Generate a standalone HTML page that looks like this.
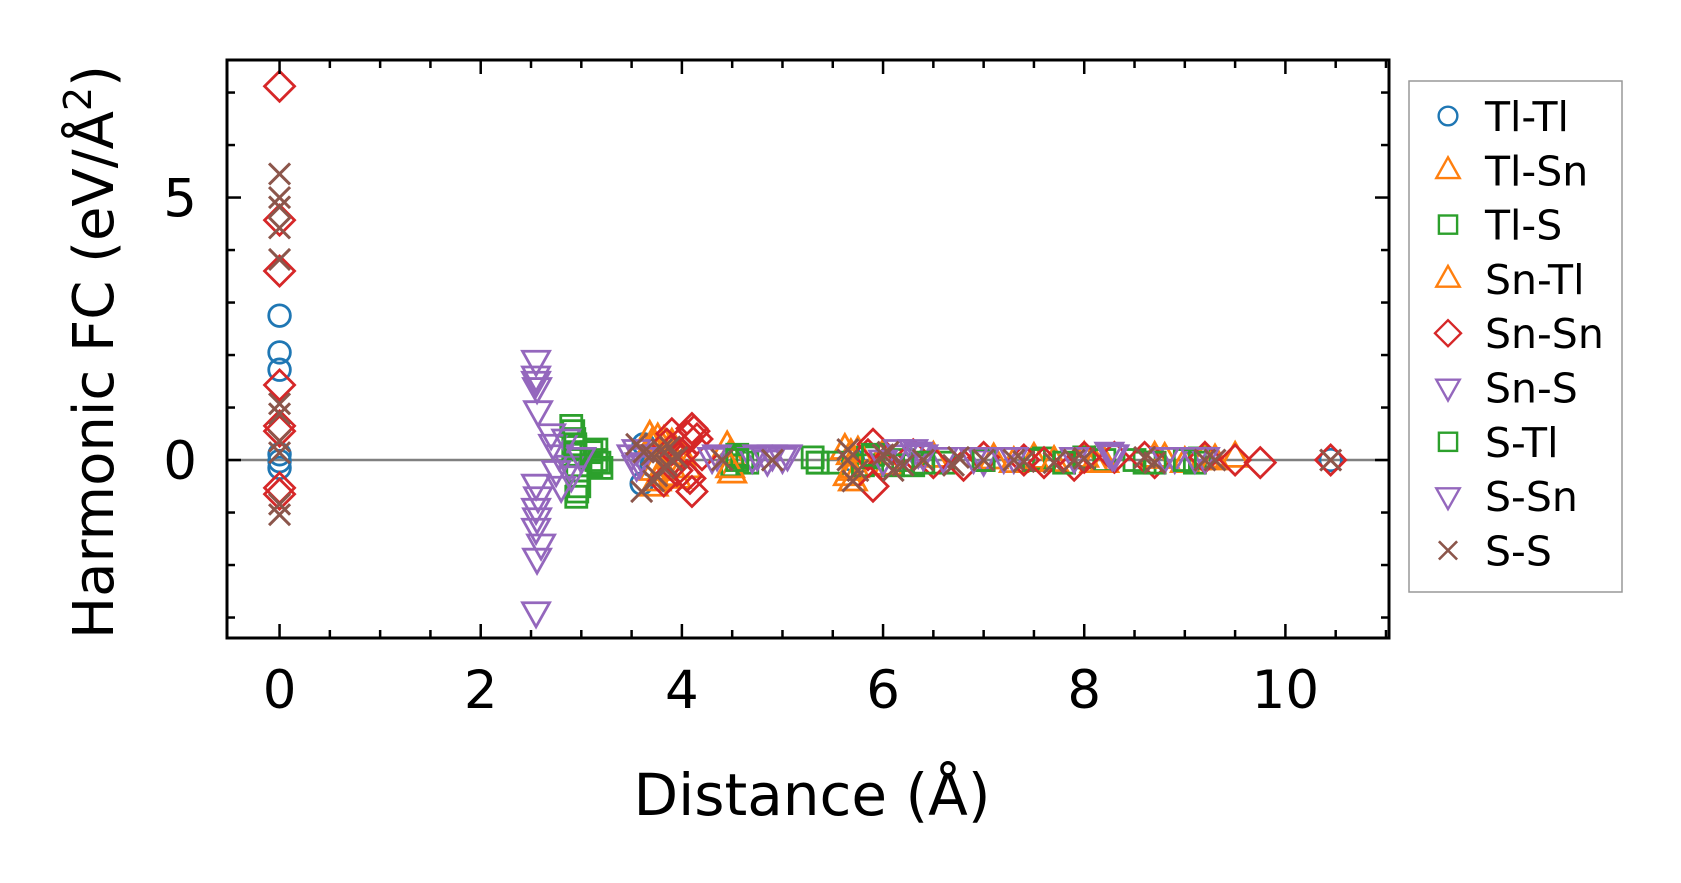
<!DOCTYPE html>
<html><head><meta charset="utf-8">
<style>
html,body{margin:0;padding:0;background:#fff;}
svg{display:block;font-family:"DejaVu Sans","Liberation Sans",sans-serif;}
</style></head>
<body>
<svg id="chart" width="1681" height="883" viewBox="0 0 1681 883" xmlns="http://www.w3.org/2000/svg">
<g id="marks"></g>
<g id="axes"></g>
<g id="legend"></g>
</svg>
<script>
// ---- data ----
const xTickLabels = [0, 2, 4, 6, 8, 10];
const yTickLabels = [0, 5];
const seriesNames = ["Tl-Tl","Tl-Sn","Tl-S","Sn-Tl","Sn-Sn","Sn-S","S-Tl","S-Sn","S-S"];
const seriesColors = ["#1f77b4","#ff7f0e","#2ca02c","#ff7f0e","#d62728","#9467bd","#2ca02c","#9467bd","#8c564b"];
const seriesMarkers = ["o","^","s","^","D","v","s","v","x"];

const tlTlX = [0,0,0,0,0,0,3.6,3.62,3.7,5.7,10.45];
const tlTlY = [2.75,2.05,1.72,0.11,-0.02,-0.15,-0.45,0.3,-0.1,0,0];
const tlSnX = [3.68,3.7,3.72,3.75,3.78,3.8,3.82,3.85,3.9,4.0,4.05,4.45,4.48,4.5,5.62,5.65,5.68,5.7,5.72,6.0,6.05,7.3,7.5,8.0,8.1,8.7,9.0,9.2,9.5];
const tlSnY = [0.45,0.3,-0.5,-0.4,0.2,-0.2,0.35,-0.3,0.1,0.1,-0.15,0.25,0.1,-0.25,0.2,-0.3,0.1,-0.4,-0.15,0.1,-0.1,-0.05,0.03,0.05,-0.05,0.05,-0.05,0.04,0.05];
const tlSX = [2.9,2.92,2.93,2.94,2.95,2.96,2.98,2.92,2.96,3.1,3.15,3.2,3.15,3.18,4.5,4.55,4.6,4.65,5.3,5.35,5.5,5.8,5.85,6.2,6.3,6.6,7.0,7.5,7.6,8.0,8.2,8.5,8.6,9.1,9.15];
const tlSY = [0.65,0.55,0.4,0.25,-0.7,-0.6,-0.5,0.1,-0.2,0.15,0.2,-0.15,0,-0.05,-0.1,0.1,0.05,-0.05,0.05,-0.05,-0.05,-0.1,0.05,0,-0.1,-0.05,0,0,0.03,0.05,0,0,-0.05,-0.05,0.03];
const snTlX = [3.72,3.76,3.9,3.95,4.48,5.68,5.75,6.5,7.1,7.7,8.2,8.8,9.3];
const snTlY = [-0.2,0.4,0.3,-0.35,-0.15,-0.2,0.15,0.05,0.02,-0.03,-0.05,0.03,0];
const snSnX = [0,0,0,0,0,0,0,0,3.82,3.85,3.9,3.95,4.0,4.05,4.08,4.1,4.12,4.15,4.1,4.05,3.9,4.2,5.85,5.9,5.9,6.0,6.3,6.5,6.8,7.0,7.4,7.6,7.9,8.0,8.3,8.6,8.7,9.2,9.5,9.75,10.45];
const snSnY = [7.12,4.57,3.6,1.43,0.65,0.55,-0.53,-0.65,-0.4,0.3,0.5,-0.2,0.1,0.45,-0.35,0.6,0.55,0.4,-0.6,-0.3,0.2,0.1,0.1,0.3,-0.5,-0.1,0.1,-0.05,-0.1,0.05,0,-0.05,-0.1,0.05,0.05,0.05,-0.05,0.05,0,-0.05,0];
const snSX = [2.55,2.55,2.56,2.57,2.55,2.55,2.56,2.55,2.56,2.55,2.7,2.72,2.75,2.8,2.78,2.85,2.88,3.5,3.55,3.6,4.3,4.35,4.7,4.75,4.9,5.0,6.2,6.3,6.35,6.6,7.0,7.3,8.3,8.9,9.2];
const snSY = [1.9,1.5,1.38,0.94,-0.46,-0.92,-1.1,-1.3,-1.87,-2.89,0.5,0.3,-0.2,-0.5,0.1,0.4,-0.1,0.1,-0.1,0.05,0.05,0.1,0.05,0.1,0.1,0.05,0.1,0.2,0.15,0.05,0.0,0.05,0.1,0.05,0.05];
const sTlX = [2.94,3.1,4.55,5.35,5.9,6.1,6.4,7.0,7.8,8.7,9.0];
const sTlY = [0.3,-0.1,0,-0.05,0.1,-0.1,-0.05,0,-0.05,-0.05,0];
const sSnX = [2.55,2.57,2.6,2.9,3.0,3.55,3.58,4.85,5.05,6.0,6.15,6.4,6.9,7.2,7.9,8.25,8.28,8.8,9.1];
const sSnY = [1.6,-0.7,-1.6,-0.3,0.05,0.2,-0.05,0,0.1,0.0,0.2,0.1,0.05,0.05,0.05,0.15,0.1,0.05,0.05];
const sSX = [0,0,0,0,0,0,0,0,0,0,0,3.55,3.6,3.62,3.7,3.72,3.75,3.8,3.82,3.9,3.85,3.88,3.95,4.4,4.9,5.65,5.7,5.65,5.75,6.0,6.05,6.1,6.2,6.4,6.7,6.75,7.0,7.3,7.4,7.7,7.9,8.0,8.6,8.7,9.2,9.3,10.45];
const sSY = [5.45,5.0,4.82,4.42,3.82,1.07,0.88,0.36,0.14,-0.84,-1.04,0.3,-0.6,0.15,0.1,-0.4,-0.3,0.2,-0.15,0,-0.1,0.25,0.05,0,0,0.2,-0.4,0,-0.2,0.1,0.15,-0.2,-0.1,0,-0.1,0.05,0,0,-0.03,-0.05,0,0.03,0.05,-0.05,0,0,0];
const seriesX = [tlTlX,tlSnX,tlSX,snTlX,snSnX,snSX,sTlX,sSnX,sSX];
const seriesY = [tlTlY,tlSnY,tlSY,snTlY,snSnY,snSY,sTlY,sSnY,sSY];

// ---- layout ----
const L=227,R=1389,T=60,B=638;
const XMIN=-0.5225,XMAX=11.03,YMIN=-3.39,YMAX=7.62;
const sx=v=>L+(v-XMIN)/(XMAX-XMIN)*(R-L);
const sy=v=>B-(v-YMIN)/(YMAX-YMIN)*(B-T);
const NS="http://www.w3.org/2000/svg";
function mk(tag,attrs,parent){const e=document.createElementNS(NS,tag);for(const k in attrs)e.setAttribute(k,attrs[k]);parent.appendChild(e);return e;}
const marks=document.getElementById('marks'),axes=document.getElementById('axes'),legend=document.getElementById('legend');

function marker(g,type,cx,cy,color,s,w){
  let e;
  if(type==='o') e=mk('circle',{cx:cx,cy:cy,r:s*0.72,fill:'none',stroke:color,'stroke-width':w},g);
  else if(type==='^') e=mk('polygon',{points:`${cx},${cy-s} ${cx-s*0.9},${cy+s*0.6} ${cx+s*0.9},${cy+s*0.6}`,fill:'none',stroke:color,'stroke-width':w},g);
  else if(type==='v') e=mk('polygon',{points:`${cx},${cy+s} ${cx-s*0.9},${cy-s*0.6} ${cx+s*0.9},${cy-s*0.6}`,fill:'none',stroke:color,'stroke-width':w},g);
  else if(type==='s') e=mk('rect',{x:cx-s*0.7,y:cy-s*0.7,width:s*1.4,height:s*1.4,fill:'none',stroke:color,'stroke-width':w},g);
  else if(type==='D') e=mk('polygon',{points:`${cx},${cy-s} ${cx+s},${cy} ${cx},${cy+s} ${cx-s},${cy}`,fill:'none',stroke:color,'stroke-width':w},g);
  else e=mk('path',{d:`M${cx-s*0.7},${cy-s*0.7}L${cx+s*0.7},${cy+s*0.7}M${cx-s*0.7},${cy+s*0.7}L${cx+s*0.7},${cy-s*0.7}`,fill:'none',stroke:color,'stroke-width':w+0.2},g);
  return e;
}

const zl=mk('line',{x1:L,x2:R,y1:sy(0),y2:sy(0),stroke:'#808080','stroke-width':2.5},marks);



for(let i=0;i<seriesNames.length;i++){
  const g=mk('g',{},marks);
  
  
  for(let j=0;j<seriesX[i].length;j++){
    const m=marker(g,seriesMarkers[i],sx(seriesX[i][j]),sy(seriesY[i][j]),seriesColors[i],15,2.8);
    
    
  }
}

const fr=mk('rect',{x:L,y:T,width:R-L,height:B-T,fill:'none',stroke:'#000','stroke-width':3},axes);



for(let v=0;v<=11;v+=0.5){
  const major=Math.abs(v/2-Math.round(v/2))<1e-6, len=major?14:8, x=sx(v);
  if(x>R-2) break;
  const t1=mk('line',{x1:x,x2:x,y1:B,y2:B-len,stroke:'#000','stroke-width':2.5},axes);
  
  
  const t2=mk('line',{x1:x,x2:x,y1:T,y2:T+len,stroke:'#000','stroke-width':2.5},axes);
  
  
}
xTickLabels.forEach(v=>{
  const t=mk('text',{x:sx(v),y:B+70,'text-anchor':'middle','font-size':53,fill:'#000'},axes);
  t.textContent=v;
  
  
});
for(let v=-3;v<=7;v++){
  const major=v%5===0, len=major?14:8, y=sy(v);
  const t1=mk('line',{x1:L,x2:L+len,y1:y,y2:y,stroke:'#000','stroke-width':2.5},axes);
  
  
  const t2=mk('line',{x1:R,x2:R-len,y1:y,y2:y,stroke:'#000','stroke-width':2.5},axes);
  
  
}
yTickLabels.forEach(v=>{
  const t=mk('text',{x:L-30,y:sy(v)+19,'text-anchor':'end','font-size':53,fill:'#000'},axes);
  t.textContent=v;
  
  
});
const xl=mk('text',{x:812,y:815,'text-anchor':'middle','font-size':58,fill:'#000'},axes);
xl.textContent='Distance (Å)';


const yl=mk('text',{x:0,y:0,'text-anchor':'middle','font-size':56,fill:'#000',transform:'translate(113,352) rotate(-90)'},axes);
yl.innerHTML='Harmonic FC (eV/Å<tspan dy="-22" font-size="38">2</tspan><tspan dy="22">)</tspan>';



const lb=mk('rect',{x:1409,y:81,width:213,height:511,fill:'#fff',stroke:'#999','stroke-width':1.5},legend);


for(let i=0;i<seriesNames.length;i++){
  const g=mk('g',{},legend);
  
  
  const cy=116+i*54.3;
  marker(g,seriesMarkers[i],1448,cy,seriesColors[i],13,2.4);
  const t=mk('text',{x:1485,y:cy+15,'font-size':41,fill:'#000'},g);
  t.textContent=seriesNames[i];
}
</script>
</body></html>
